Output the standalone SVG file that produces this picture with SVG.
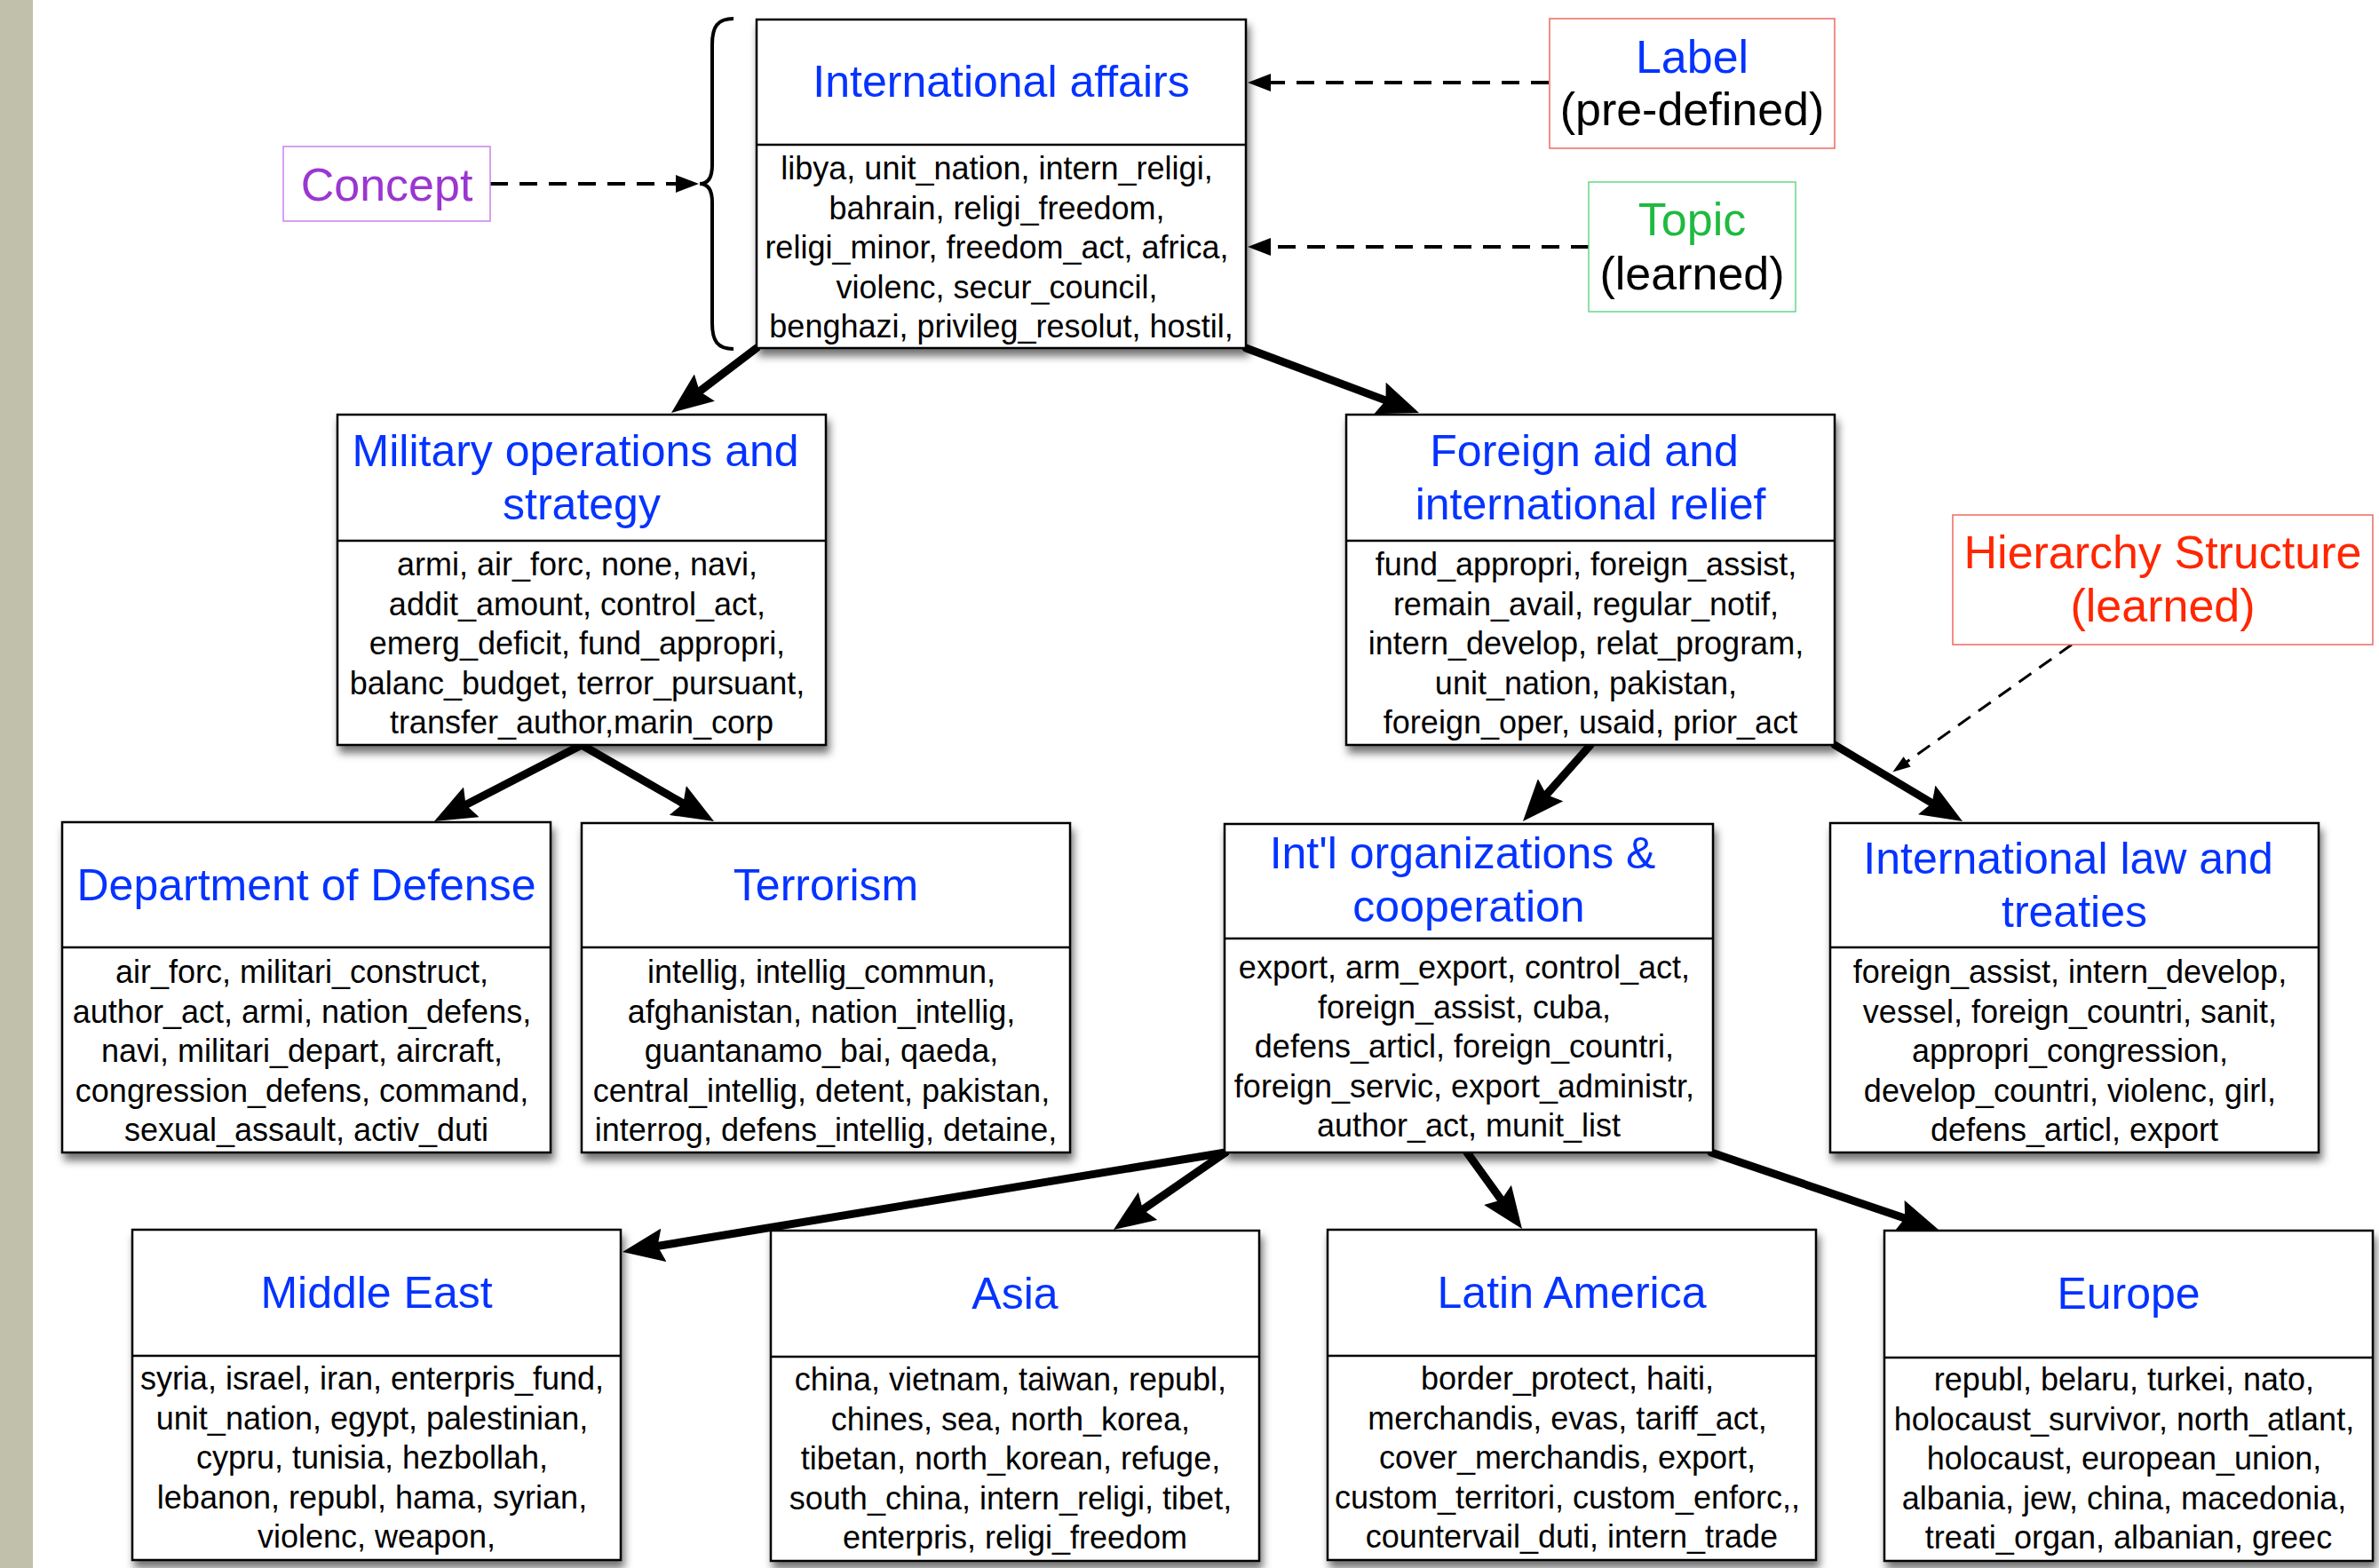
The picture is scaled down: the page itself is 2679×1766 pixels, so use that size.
<svg xmlns="http://www.w3.org/2000/svg" width="2679" height="1766" viewBox="0 0 2679 1766">
  <style>
    text { font-family: "Liberation Sans", Arial, Helvetica, sans-serif; text-anchor: middle; }
    .frame { fill: #ffffff; stroke: #000000; stroke-width: 2.5; }
    .divider { stroke: #000000; stroke-width: 2.5; }
    .title { font-size: 50px; fill: #0433ff; }
    .body { font-size: 36px; fill: #000000; }
    .legend { font-size: 52px; }
    .edge { stroke: #000000; stroke-width: 9; fill: none; stroke-linecap: round; marker-end: url(#head); }
    .pointer { stroke: #000000; stroke-width: 4; fill: none; stroke-dasharray: 20 13; marker-end: url(#smallhead); }
  </style>
  <defs>
    <filter id="shadow" x="-10%" y="-10%" width="125%" height="130%">
      <feDropShadow dx="3" dy="8" stdDeviation="5" flood-color="#000000" flood-opacity="0.55"/>
    </filter>
    <marker id="head" markerUnits="userSpaceOnUse" viewBox="0 0 47 38" markerWidth="47" markerHeight="38" refX="6" refY="19" orient="auto">
      <path d="M0,0 L47,19 L0,38 L7,19 z" fill="#000000"/>
    </marker>
    <marker id="smallhead" markerUnits="userSpaceOnUse" viewBox="0 0 26 20" markerWidth="26" markerHeight="20" refX="2" refY="10" orient="auto">
      <path d="M0,0 L26,10 L0,20 z" fill="#000000"/>
    </marker>
    <marker id="tinyhead" markerUnits="userSpaceOnUse" viewBox="0 0 20 14" markerWidth="20" markerHeight="14" refX="2" refY="7" orient="auto">
      <path d="M0,0 L20,7 L0,14 z" fill="#000000"/>
    </marker>
  </defs>

  <rect x="0" y="0" width="2679" height="1766" fill="#ffffff"/>
  <rect x="0" y="0" width="37" height="1766" fill="#c1c0ab"/>

  <!-- connectors -->
  <g id="connectors">
    <line class="edge" x1="852" y1="392" x2="788.6" y2="440.2"/>
    <line class="edge" x1="1403" y1="392" x2="1559.6" y2="450.6"/>
    <line class="edge" x1="655" y1="839" x2="525.4" y2="906.1"/>
    <line class="edge" x1="655" y1="839" x2="768.5" y2="904.5"/>
    <line class="edge" x1="1791" y1="839" x2="1742.1" y2="894.3"/>
    <line class="edge" x1="2066" y1="839" x2="2174.8" y2="904"/>
    <line class="edge" x1="1380" y1="1298" x2="741.5" y2="1403.3"/>
    <line class="edge" x1="1380" y1="1298" x2="1287.7" y2="1361.7"/>
    <line class="edge" x1="1652" y1="1298" x2="1690" y2="1350.7"/>
    <line class="edge" x1="1927" y1="1298" x2="2144.2" y2="1371.8"/>

    <line class="pointer" x1="1744" y1="93" x2="1429" y2="93"/>
    <line class="pointer" x1="1789" y1="278" x2="1429" y2="278"/>
    <line class="pointer" x1="552" y1="207" x2="763" y2="207"/>
    <line x1="2333" y1="726" x2="2146" y2="859" stroke="#000000" stroke-width="3" stroke-dasharray="17 11" fill="none" marker-end="url(#tinyhead)"/>

    <!-- brace grouping the concept -->
    <path d="M826,21 C808,21 802,30 802,50 L802,186 C802,200 797,207 788,207 C797,207 802,214 802,228 L802,364 C802,384 808,393 826,393" fill="none" stroke="#000000" stroke-width="4"/>
  </g>

  <!-- legend -->
  <g id="legend-concept">
    <rect x="319" y="165" width="233" height="84" fill="#ffffff" stroke="#cc80ee" stroke-width="1.5"/>
    <text class="legend" x="435.5" y="226" fill="#9b36d0">Concept</text>
  </g>
  <g id="legend-label">
    <rect x="1745" y="21" width="321" height="146" fill="#ffffff" stroke="#f06a60" stroke-width="1.5"/>
    <text class="legend" x="1905.5" y="82" fill="#0433ff">Label</text>
    <text class="legend" x="1905.5" y="141" fill="#000000">(pre-defined)</text>
  </g>
  <g id="legend-topic">
    <rect x="1789" y="205" width="233" height="146" fill="#ffffff" stroke="#66d888" stroke-width="1.5"/>
    <text class="legend" x="1905.5" y="265" fill="#1fba3f">Topic</text>
    <text class="legend" x="1905.5" y="326" fill="#000000">(learned)</text>
  </g>
  <g id="legend-hierarchy">
    <rect x="2199" y="580" width="473" height="146" fill="#ffffff" stroke="#f06a60" stroke-width="1.5"/>
    <text class="legend" x="2435.5" y="640" fill="#ff2600">Hierarchy Structure</text>
    <text class="legend" x="2435.5" y="700" fill="#ff2600">(learned)</text>
  </g>

  <!-- topic nodes -->
  <g id="international-affairs">
    <rect class="frame" x="852" y="22" width="551" height="370" filter="url(#shadow)"/>
    <line class="divider" x1="852" y1="163" x2="1403" y2="163"/>
    <text class="title" x="1127.5" y="109">International affairs</text>
    <text class="body">
      <tspan x="1127.5" y="202">libya, unit_nation, intern_religi,</tspan>
      <tspan x="1127.5" y="246.5">bahrain, religi_freedom,</tspan>
      <tspan x="1127.5" y="291">religi_minor, freedom_act, africa,</tspan>
      <tspan x="1127.5" y="335.5">violenc, secur_council,</tspan>
      <tspan x="1127.5" y="380">benghazi, privileg_resolut, hostil,</tspan>
    </text>
  </g>

  <g id="military-operations">
    <rect class="frame" x="380" y="467" width="550" height="372" filter="url(#shadow)"/>
    <line class="divider" x1="380" y1="609" x2="930" y2="609"/>
    <text class="title">
      <tspan x="655" y="525">Military operations and</tspan>
      <tspan x="655" y="585">strategy</tspan>
    </text>
    <text class="body">
      <tspan x="655" y="648">armi, air_forc, none, navi,</tspan>
      <tspan x="655" y="692.5">addit_amount, control_act,</tspan>
      <tspan x="655" y="737">emerg_deficit, fund_appropri,</tspan>
      <tspan x="655" y="781.5">balanc_budget, terror_pursuant,</tspan>
      <tspan x="655" y="826">transfer_author,marin_corp</tspan>
    </text>
  </g>

  <g id="foreign-aid">
    <rect class="frame" x="1516" y="467" width="550" height="372" filter="url(#shadow)"/>
    <line class="divider" x1="1516" y1="609" x2="2066" y2="609"/>
    <text class="title">
      <tspan x="1791" y="525">Foreign aid and</tspan>
      <tspan x="1791" y="585">international relief</tspan>
    </text>
    <text class="body">
      <tspan x="1791" y="648">fund_appropri, foreign_assist,</tspan>
      <tspan x="1791" y="692.5">remain_avail, regular_notif,</tspan>
      <tspan x="1791" y="737">intern_develop, relat_program,</tspan>
      <tspan x="1791" y="781.5">unit_nation, pakistan,</tspan>
      <tspan x="1791" y="826">foreign_oper, usaid, prior_act</tspan>
    </text>
  </g>

  <g id="department-of-defense">
    <rect class="frame" x="70" y="926" width="550" height="372" filter="url(#shadow)"/>
    <line class="divider" x1="70" y1="1067" x2="620" y2="1067"/>
    <text class="title" x="345" y="1014">Department of Defense</text>
    <text class="body">
      <tspan x="345" y="1107">air_forc, militari_construct,</tspan>
      <tspan x="345" y="1151.5">author_act, armi, nation_defens,</tspan>
      <tspan x="345" y="1196">navi, militari_depart, aircraft,</tspan>
      <tspan x="345" y="1240.5">congression_defens, command,</tspan>
      <tspan x="345" y="1285">sexual_assault, activ_duti</tspan>
    </text>
  </g>

  <g id="terrorism">
    <rect class="frame" x="655" y="927" width="550" height="371" filter="url(#shadow)"/>
    <line class="divider" x1="655" y1="1067" x2="1205" y2="1067"/>
    <text class="title" x="930" y="1014">Terrorism</text>
    <text class="body">
      <tspan x="930" y="1107">intellig, intellig_commun,</tspan>
      <tspan x="930" y="1151.5">afghanistan, nation_intellig,</tspan>
      <tspan x="930" y="1196">guantanamo_bai, qaeda,</tspan>
      <tspan x="930" y="1240.5">central_intellig, detent, pakistan,</tspan>
      <tspan x="930" y="1285">interrog, defens_intellig, detaine,</tspan>
    </text>
  </g>

  <g id="intl-organizations">
    <rect class="frame" x="1379" y="928" width="550" height="370" filter="url(#shadow)"/>
    <line class="divider" x1="1379" y1="1057" x2="1929" y2="1057"/>
    <text class="title">
      <tspan x="1654" y="978">Int'l organizations &amp;</tspan>
      <tspan x="1654" y="1038">cooperation</tspan>
    </text>
    <text class="body">
      <tspan x="1654" y="1102">export, arm_export, control_act,</tspan>
      <tspan x="1654" y="1146.5">foreign_assist, cuba,</tspan>
      <tspan x="1654" y="1191">defens_articl, foreign_countri,</tspan>
      <tspan x="1654" y="1235.5">foreign_servic, export_administr,</tspan>
      <tspan x="1654" y="1280">author_act, munit_list</tspan>
    </text>
  </g>

  <g id="international-law">
    <rect class="frame" x="2061" y="927" width="550" height="371" filter="url(#shadow)"/>
    <line class="divider" x1="2061" y1="1067" x2="2611" y2="1067"/>
    <text class="title">
      <tspan x="2336" y="984">International law and</tspan>
      <tspan x="2336" y="1044">treaties</tspan>
    </text>
    <text class="body">
      <tspan x="2336" y="1107">foreign_assist, intern_develop,</tspan>
      <tspan x="2336" y="1151.5">vessel, foreign_countri, sanit,</tspan>
      <tspan x="2336" y="1196">appropri_congression,</tspan>
      <tspan x="2336" y="1240.5">develop_countri, violenc, girl,</tspan>
      <tspan x="2336" y="1285">defens_articl, export</tspan>
    </text>
  </g>

  <g id="middle-east">
    <rect class="frame" x="149" y="1385" width="550" height="372" filter="url(#shadow)"/>
    <line class="divider" x1="149" y1="1527" x2="699" y2="1527"/>
    <text class="title" x="424" y="1473">Middle East</text>
    <text class="body">
      <tspan x="424" y="1565">syria, israel, iran, enterpris_fund,</tspan>
      <tspan x="424" y="1609.5">unit_nation, egypt, palestinian,</tspan>
      <tspan x="424" y="1654">cypru, tunisia, hezbollah,</tspan>
      <tspan x="424" y="1698.5">lebanon, republ, hama, syrian,</tspan>
      <tspan x="424" y="1743">violenc, weapon,</tspan>
    </text>
  </g>

  <g id="asia">
    <rect class="frame" x="868" y="1386" width="550" height="372" filter="url(#shadow)"/>
    <line class="divider" x1="868" y1="1528" x2="1418" y2="1528"/>
    <text class="title" x="1143" y="1474">Asia</text>
    <text class="body">
      <tspan x="1143" y="1566">china, vietnam, taiwan, republ,</tspan>
      <tspan x="1143" y="1610.5">chines, sea, north_korea,</tspan>
      <tspan x="1143" y="1655">tibetan, north_korean, refuge,</tspan>
      <tspan x="1143" y="1699.5">south_china, intern_religi, tibet,</tspan>
      <tspan x="1143" y="1744">enterpris, religi_freedom</tspan>
    </text>
  </g>

  <g id="latin-america">
    <rect class="frame" x="1495" y="1385" width="550" height="372" filter="url(#shadow)"/>
    <line class="divider" x1="1495" y1="1527" x2="2045" y2="1527"/>
    <text class="title" x="1770" y="1473">Latin America</text>
    <text class="body">
      <tspan x="1770" y="1565">border_protect, haiti,</tspan>
      <tspan x="1770" y="1609.5">merchandis, evas, tariff_act,</tspan>
      <tspan x="1770" y="1654">cover_merchandis, export,</tspan>
      <tspan x="1770" y="1698.5">custom_territori, custom_enforc,,</tspan>
      <tspan x="1770" y="1743">countervail_duti, intern_trade</tspan>
    </text>
  </g>

  <g id="europe">
    <rect class="frame" x="2122" y="1386" width="550" height="372" filter="url(#shadow)"/>
    <line class="divider" x1="2122" y1="1529" x2="2672" y2="1529"/>
    <text class="title" x="2397" y="1474">Europe</text>
    <text class="body">
      <tspan x="2397" y="1566">republ, belaru, turkei, nato,</tspan>
      <tspan x="2397" y="1610.5">holocaust_survivor, north_atlant,</tspan>
      <tspan x="2397" y="1655">holocaust, european_union,</tspan>
      <tspan x="2397" y="1699.5">albania, jew, china, macedonia,</tspan>
      <tspan x="2397" y="1744">treati_organ, albanian, greec</tspan>
    </text>
  </g>
</svg>
